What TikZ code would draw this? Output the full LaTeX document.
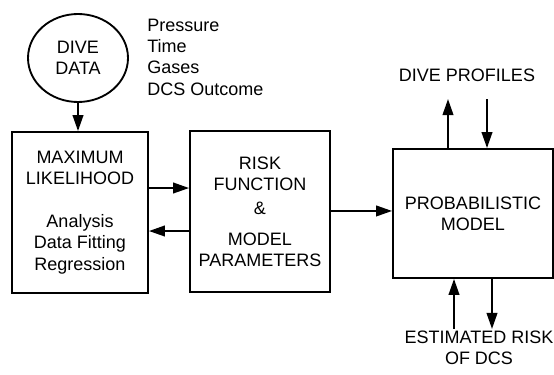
\documentclass[tikz,border=0pt]{standalone}
\usepackage{fontspec}
\setmainfont{Liberation Sans}
\usetikzlibrary{arrows.meta,calc,shapes.geometric}

\begin{document}
\begin{tikzpicture}[x=0.75pt, y=0.75pt, font=\fontsize{13.5}{16}\selectfont, >={Triangle[length=12pt, width=8pt]},
  box/.style={draw=black, align=center, inner sep=0pt, line width=1.4pt},
  flow/.style={->, line width=1.4pt, draw=black},
  lbl/.style={align=center, inner sep=0pt}]
\useasboundingbox (0,0) rectangle (554,375);
% input data and what it holds
\node[box, ellipse, minimum width=75pt, minimum height=66pt] (data) at (78,317) {DIVE\\DATA};
\node[lbl, anchor=west, align=left] (vars) at (147,318) {Pressure\\Time\\Gases\\DCS Outcome};
% ---- fitting
\node[box, minimum width=102pt, minimum height=120.75pt] (mle) at (80,162.5) {MAXIMUM\\LIKELIHOOD\\[16pt]Analysis\\Data Fitting\\Regression};
\draw[flow] (data.south) -- (data.south |- mle.north);
% ---- risk function
\node[box, minimum width=105pt, minimum height=120.75pt] (risk) at (260,163.5) {RISK\\FUNCTION\\[2pt]\&\\[7pt]MODEL\\PARAMETERS};
\draw[flow] ([yshift=18.4pt]mle.east) -- ([yshift=17.6pt]risk.west);
\draw[flow] ([yshift=-14.6pt]risk.west) -- ([yshift=-13.9pt]mle.east);
% ---- model
\node[box, minimum width=120pt, minimum height=96.75pt] (model) at (473,161.5) {PROBABILISTIC\\MODEL};
\draw[flow] ([yshift=0.4pt]risk.east) -- ([yshift=0.4pt]risk.east -| model.west);
% profiles in and out
\node[lbl] (prof) at (467,300) {DIVE PROFILES};
\coordinate (profout) at ([xshift=-18.75pt, yshift=36.75pt]model.north);
\coordinate (profin) at ([xshift=10.5pt, yshift=36.75pt]model.north);
\draw[flow] ([xshift=-18.75pt]model.north) -- (profout);
\draw[flow] (profin) -- ([xshift=10.5pt]model.north);
% risk estimate
\node[lbl] (est) at (479,27) {ESTIMATED RISK\\OF DCS};
\coordinate (estin) at ([xshift=-14.25pt, yshift=-37.5pt]model.south);
\coordinate (estout) at ([xshift=14.25pt, yshift=-37.5pt]model.south);
\draw[flow] (estin) -- ([xshift=-14.25pt]model.south);
\draw[flow] ([xshift=14.25pt]model.south) -- (estout);
\end{tikzpicture}
\end{document}
